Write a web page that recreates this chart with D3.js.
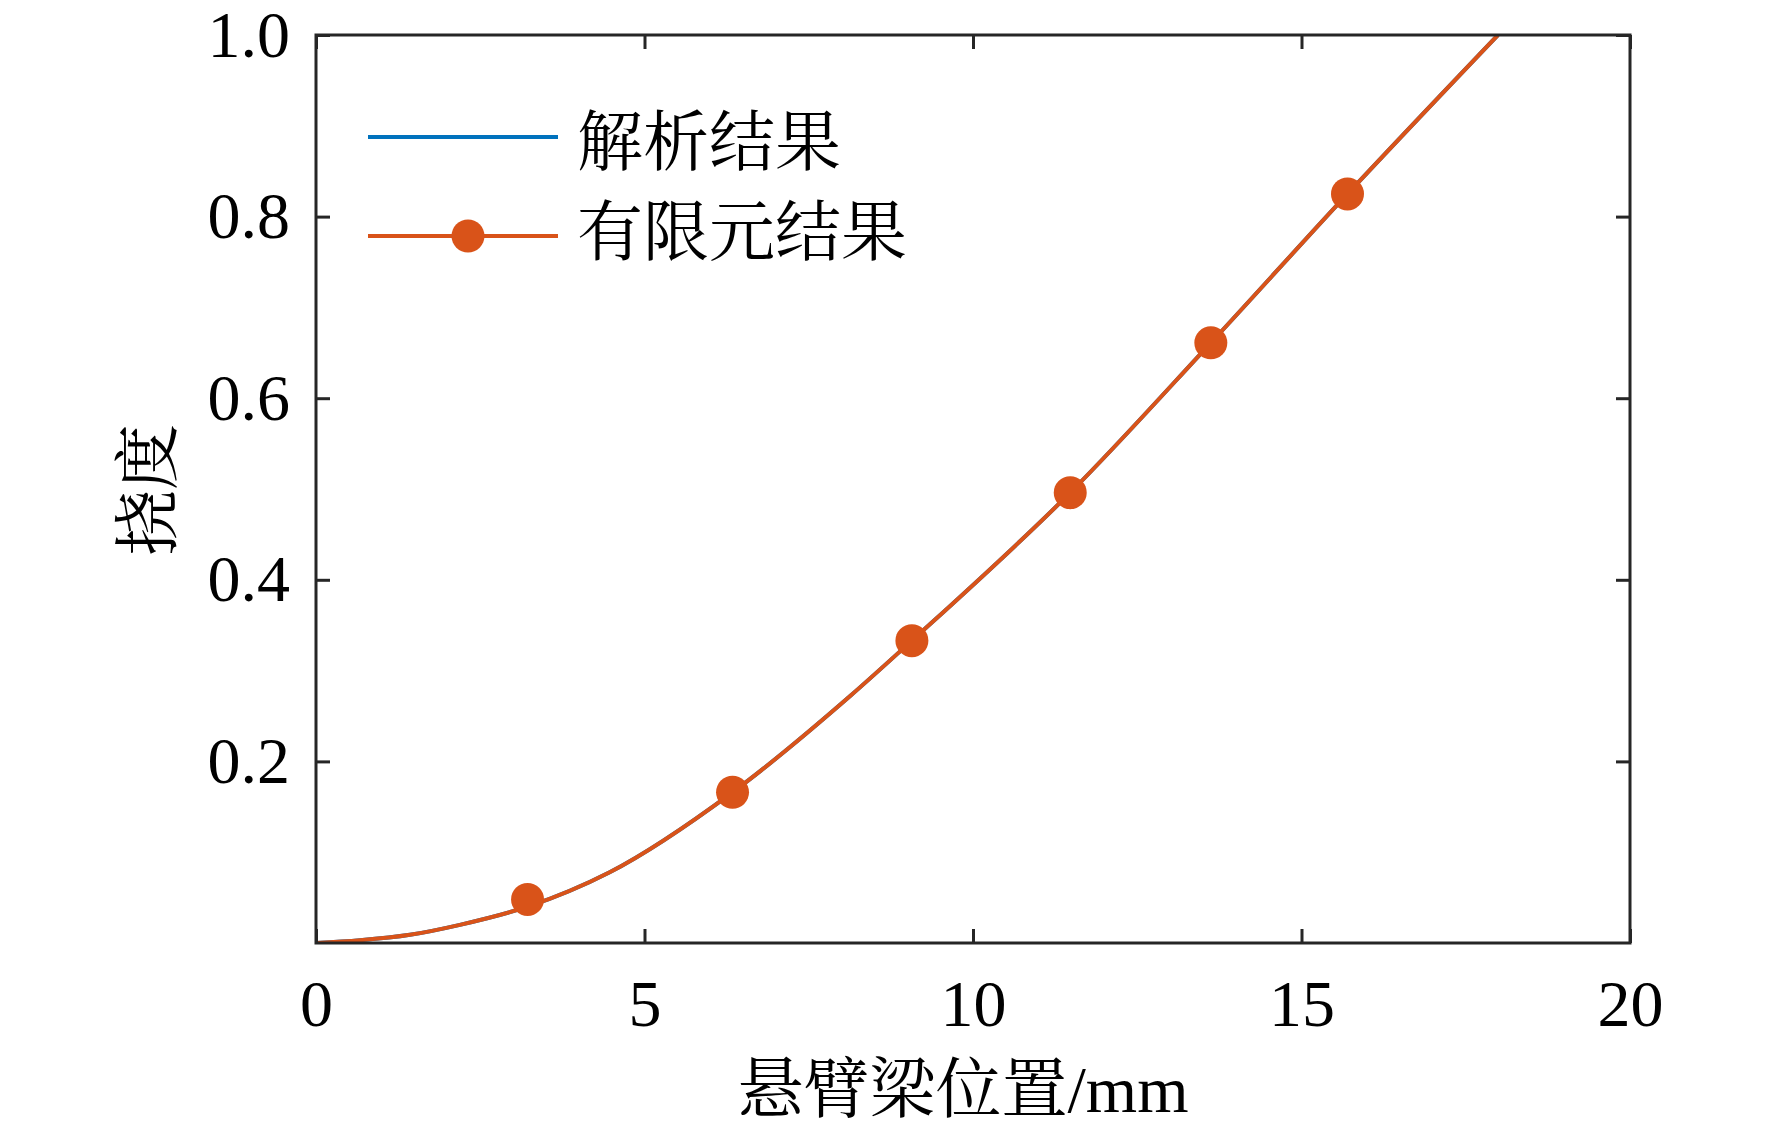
<!DOCTYPE html>
<html>
<head>
<meta charset="utf-8">
<script src="https://cdn.jsdelivr.net/npm/d3@7"></script>
<style>
  body { margin: 0; background: #fff; }
  text { font-family: "Liberation Serif", "Times New Roman", "Noto Serif CJK SC", "Noto Sans CJK SC", serif; fill: #000; }
</style>
</head>
<body>
<div id="container"></div>
<script>
// positions along the beam (mm) and the analytic deflection
let posX = [0, 0.67, 1.43, 2.19, 3.22, 4.47, 6.34, 8.13, 9.07, 11.48, 13.62, 15.70, 17.99];
let analytic = [0, 0.003, 0.009, 0.020, 0.040, 0.078, 0.166, 0.272, 0.333, 0.496, 0.661, 0.825, 1.0];

// finite element nodes shown with markers
let feX = [3.22, 6.34, 9.07, 11.48, 13.62, 15.70];
let feY = [0.048, 0.166, 0.333, 0.496, 0.661, 0.825];

let xTicks = [0, 5, 10, 15, 20];
let yTicks = [0.2, 0.4, 0.6, 0.8, 1.0];

let legendNames = ["解析结果", "有限元结果"];
let xTitle = "悬臂梁位置/mm";
let yTitle = "挠度";

let w = 1772;
let h = 1131;
// plot box edges ("top" is taken by window.top, so prefix them)
let pLeft = 316, pRight = 1630, pTop = 35, pBottom = 943;

let blue = "#0072BD";
let orange = "#D95319";
let axisColor = "#262626";

let viz = d3.select("#container")
    .append("svg")
    .attr("width", w)
    .attr("height", h);

let xScale = d3.scaleLinear().domain([0, 20]).range([pLeft, pRight]);
let yScale = d3.scaleLinear().domain([0, 1]).range([pBottom, pTop]);

// clip to plot box
viz.append("clipPath").attr("id", "plotClip")
    .append("rect")
    .attr("x", pLeft).attr("y", pTop)
    .attr("width", pRight - pLeft).attr("height", pBottom - pTop);

let lineGen = d3.line()
    .x(d => xScale(d[0]))
    .y(d => yScale(d[1]))
    .curve(d3.curveMonotoneX);

let curvePts = posX.map((x, i) => [x, analytic[i]]);
let fePts = feX.map((x, i) => [x, feY[i]]);

let graphGroup = viz.append("g").attr("clip-path", "url(#plotClip)");

graphGroup.append("path")
    .datum(curvePts)
    .attr("d", lineGen)
    .attr("fill", "none")
    .attr("stroke", blue)
    .attr("stroke-width", 4);

graphGroup.append("path")
    .datum(curvePts)
    .attr("d", lineGen)
    .attr("fill", "none")
    .attr("stroke", orange)
    .attr("stroke-width", 4);

graphGroup.selectAll(".fe")
    .data(fePts)
    .enter()
    .append("circle")
    .attr("class", "fe")
    .attr("cx", d => xScale(d[0]))
    .attr("cy", d => yScale(d[1]))
    .attr("r", 16.5)
    .attr("fill", orange);

// axes
let fontSize = 66;

let xAxis = d3.axisBottom(xScale).tickValues(xTicks).tickSizeInner(-14).tickSizeOuter(0).tickPadding(36);
let xAxisGroup = viz.append("g").attr("transform", "translate(0," + pBottom + ")").call(xAxis);

let yAxis = d3.axisLeft(yScale).tickValues(yTicks).tickFormat(d3.format(".1f")).tickSizeInner(-14).tickSizeOuter(0).tickPadding(26);
let yAxisGroup = viz.append("g").attr("transform", "translate(" + pLeft + ",0)").call(yAxis);

// mirrored ticks on top and right
let xTopAxis = d3.axisTop(xScale).tickValues(xTicks).tickSizeInner(-14).tickSizeOuter(0).tickFormat("");
let xTopGroup = viz.append("g").attr("transform", "translate(0," + pTop + ")").call(xTopAxis);
let yRightAxis = d3.axisRight(yScale).tickValues(yTicks).tickSizeInner(-14).tickSizeOuter(0).tickFormat("");
let yRightGroup = viz.append("g").attr("transform", "translate(" + pRight + ",0)").call(yRightAxis);

[xAxisGroup, yAxisGroup, xTopGroup, yRightGroup].forEach(g => {
    g.select(".domain").remove();
    g.selectAll("line").attr("stroke", axisColor).attr("stroke-width", 3);
    g.selectAll("text")
        .attr("font-size", fontSize)
        .attr("fill", "#000")
        .style("font-family", "'Liberation Serif', 'Times New Roman', serif");
});

viz.append("rect")
    .attr("x", pLeft).attr("y", pTop)
    .attr("width", pRight - pLeft).attr("height", pBottom - pTop)
    .attr("fill", "none")
    .attr("stroke", axisColor)
    .attr("stroke-width", 3);

// axis titles
viz.append("text")
    .attr("x", (pLeft + pRight) / 2 - 10)
    .attr("y", 1112)
    .attr("text-anchor", "middle")
    .attr("font-size", fontSize)
    .text(xTitle);

viz.append("text")
    .attr("transform", "translate(148,490) rotate(-90)")
    .attr("text-anchor", "middle")
    .attr("dominant-baseline", "central")
    .attr("font-size", fontSize)
    .text(yTitle);

// legend
let legendY = [137, 236];
let legendTextY = [165, 255];
let legendColors = [blue, orange];
let legend = viz.append("g");

legendNames.forEach((name, i) => {
    legend.append("line")
        .attr("x1", 368).attr("x2", 558)
        .attr("y1", legendY[i]).attr("y2", legendY[i])
        .attr("stroke", legendColors[i])
        .attr("stroke-width", 4);
    if (i == 1) {
        legend.append("circle")
            .attr("cx", 468).attr("cy", legendY[i])
            .attr("r", 16.5)
            .attr("fill", orange);
    }
    legend.append("text")
        .attr("x", 577)
        .attr("y", legendTextY[i])
        .attr("font-size", fontSize)
        .text(name);
});
</script>
</body>
</html>
